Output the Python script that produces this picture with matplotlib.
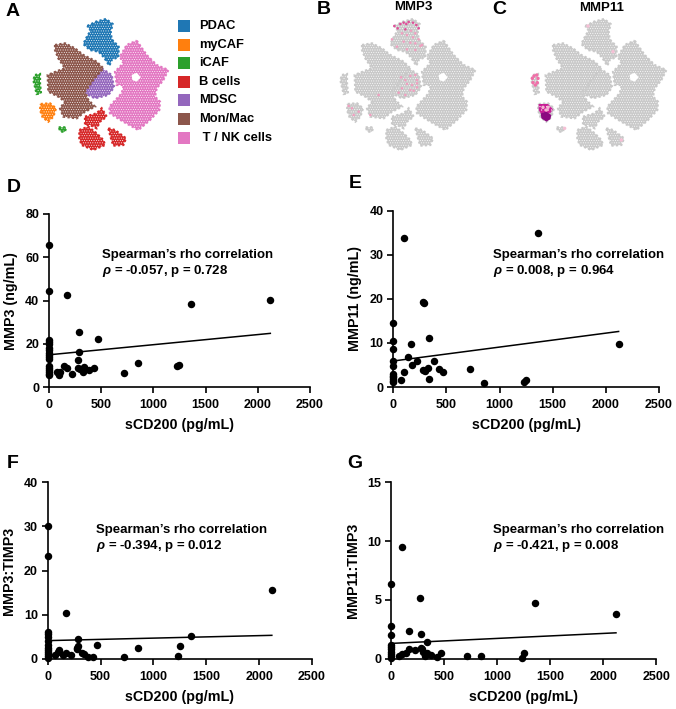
import matplotlib
matplotlib.use('Agg')
import matplotlib.pyplot as plt
from matplotlib.patches import Polygon, Rectangle

plt.rcParams['font.family'] = ['Liberation Sans', 'DejaVu Sans']
plt.rcParams['font.weight'] = 'bold'
plt.rcParams['axes.labelweight'] = 'bold'
plt.rcParams['mathtext.fontset'] = 'custom'
plt.rcParams['mathtext.it'] = 'Liberation Sans:italic'
plt.rcParams['hatch.linewidth'] = 0.35

W, H = 676, 709

# cluster outlines
pdac = [[(262, 78), (288, 65), (318, 57), (338, 72), (332, 95), (335, 118), (356, 140), (355, 172),
         (336, 178), (328, 197), (312, 172), (296, 155), (270, 150), (250, 132), (262, 108), (272, 92)]]
mycaf = [[(122, 312), (150, 310), (168, 325), (160, 350), (145, 365), (128, 352), (120, 330)]]
icaf = [[(105, 225), (120, 222), (120, 250), (123, 280), (110, 282), (100, 240)],
        [(176, 382), (198, 382), (195, 395), (182, 395)]]
bcells = [[(255, 350), (290, 340), (305, 325), (320, 350), (300, 365), (290, 385), (270, 375), (255, 375)],
          [(238, 390), (265, 380), (290, 400), (310, 420), (315, 435), (280, 450), (245, 435), (238, 415)],
          [(325, 385), (345, 390), (378, 415), (370, 435), (340, 437), (333, 415)]]
mdsc = [[(305, 205), (335, 225), (342, 262), (325, 285), (285, 295), (255, 280), (280, 240)]]
monmac = [[(165, 135), (195, 130), (225, 145), (250, 165), (290, 185), (310, 205), (280, 240), (255, 275),
           (265, 300), (285, 320), (255, 335), (230, 355), (190, 350), (180, 325), (195, 305), (175, 290),
           (145, 275), (143, 225), (175, 212), (195, 205), (175, 175), (165, 150)]]
tnk = [[(410, 122), (440, 165), (470, 195), (505, 210), (490, 240), (470, 265), (465, 290), (480, 305),
        (478, 330), (450, 360), (415, 390), (370, 365), (330, 340), (328, 320), (365, 280), (372, 255),
        (350, 255), (345, 215), (370, 190), (360, 170), (380, 135)]]
tnk_hole = [(395, 225), (410, 218), (422, 232), (410, 245), (397, 240)]

clusters = [pdac, mycaf, icaf, bcells, mdsc, monmac, tnk]
cluster_names = ['PDAC', 'myCAF', 'iCAF', 'B cells', 'MDSC', 'Mon/Mac', ' T / NK cells']
cluster_colors = ['#1f77b4', '#ff7f0e', '#2ca02c', '#d62728', '#9467bd', '#8c564b', '#e377c2']

# expressing cells, same map coordinates
mmp3_x = [262, 280, 290, 298, 305, 318, 328, 335, 272, 295, 312, 325, 285, 300, 318, 335, 290, 310, 325, 340,
          270, 300, 325, 345, 255, 125, 135, 155, 140, 190, 282, 295, 310, 325, 330, 300, 315, 330, 285, 310,
          275, 295, 320, 330, 215]
mmp3_y = [78, 72, 68, 72, 66, 68, 75, 85, 85, 88, 92, 100, 100, 105, 112, 118, 125, 128, 130, 138,
          140, 148, 150, 135, 118, 318, 325, 335, 345, 345, 232, 240, 228, 225, 240, 252, 255, 250, 265, 270,
          278, 285, 272, 262, 285]
mmp3_c = ['#e0509a'] * 10 + ['#f0a0c0'] * 35

mmp11_mid = [(122, 312), (150, 312), (165, 328), (157, 340), (128, 340), (122, 330)]
mmp11_dark = [(128, 340), (145, 335), (160, 345), (157, 358), (145, 365), (130, 355)]
mmp11_x = [103, 108, 116, 120, 118, 105, 112, 135, 150, 145, 200, 270, 345, 370]
mmp11_y = [235, 228, 225, 235, 248, 248, 255, 322, 322, 330, 385, 78, 155, 420]
mmp11_c = ['#f070a8'] * 7 + ['#f3b6d2'] * 3 + ['#f5c0d5'] * 4

# sCD200 pg/mL and the four read-outs
y_zero_d = [65.7, 44.3, 22, 21, 20, 18, 17, 16, 15, 14, 13, 10, 9, 8, 7, 6, 5.5]
x_d = [72, 100, 105, 140, 170, 172, 225, 275, 280, 285, 290, 295, 325, 340, 345, 380, 430, 470, 720, 850, 1230, 1250, 1360, 2120]
y_d = [7.2, 5.5, 7, 10, 42.5, 8.7, 6.2, 12.5, 8.8, 25.3, 16.5, 8.5, 7, 9.2, 8.5, 8, 9, 22.3, 6.8, 11.2, 9.7, 10.5, 38.5, 40.2]

y_zero_e = [14.6, 10.5, 8.6, 6, 4.8, 3, 2.6, 2.2, 1.8, 1.4, 1.1]
x_e = [105, 1360, 275, 285, 335, 170, 140, 225, 175, 380, 275, 295, 325, 430, 470, 340, 72, 105, 720, 850, 1230, 1250, 2120]
y_e = [33.8, 35, 19.3, 19, 11.2, 9.7, 6.7, 6, 5, 5.8, 3.9, 3.6, 4.2, 4, 3.4, 1.9, 1.7, 3.5, 4.1, 0.9, 1.1, 1.6, 9.8]

y_zero_f = [30, 23.2, 6.1, 5.5, 5, 4, 3.2, 2.5, 2, 1.5, 1, 0.5, 0.2]
x_f = [170, 2120, 1360, 1250, 1230, 850, 720, 470, 290, 285, 275, 280, 325, 340, 380, 430, 225, 175, 140, 105, 100, 72]
y_f = [10.3, 15.6, 5.2, 2.8, 0.5, 2.4, 0.4, 3.2, 4.4, 2.8, 2.2, 2.5, 1.2, 1, 0.4, 0.3, 0.8, 1.3, 0.9, 1.9, 1.5, 0.9]

y_zero_g = [6.35, 2.8, 2, 1.15, 1, 0.8, 0.6, 0.4, 0.2, 0.1]
x_g = [105, 275, 1360, 2120, 170, 280, 335, 280, 295, 225, 170, 140, 105, 72, 325, 340, 380, 430, 470, 720, 850, 1230, 1250, 300]
y_g = [9.5, 5.2, 4.7, 3.8, 2.35, 2.1, 1.45, 0.95, 0.8, 0.7, 0.8, 0.5, 0.4, 0.2, 0.2, 0.45, 0.3, 0.15, 0.5, 0.2, 0.2, 0.05, 0.45, 0.6]

line_x = [0, 2120]
line_d = [15, 24.9]
line_e = [5.9, 12.6]
line_f = [4.1, 5.3]
line_g = [1.3, 2.2]


def axes_px(left, top, right, bottom):
    return fig.add_axes([left / W, 1 - bottom / H, (right - left) / W, (bottom - top) / H])


def draw_map(offset, colors=None):
    # the map is read in 3x pixel units, x 80-510 and y 50-460
    ax = axes_px(80 / 3 + offset, 50 / 3, 510 / 3 + offset, 460 / 3)
    ax.set_xlim(80, 510)
    ax.set_ylim(460, 50)
    ax.axis('off')
    for i, parts in enumerate(clusters):
        c = colors[i] if colors else '#c9c9c9'
        for part in parts:
            ax.add_patch(Polygon(part, closed=True, facecolor=c, edgecolor='white', hatch='.......', lw=0))
            # dotted rim so the cluster edge is not a hard line
            ax.add_patch(Polygon(part, closed=True, fill=False, edgecolor=c, lw=1.6, ls=(0, (1, 1))))
    ax.add_patch(Polygon(tnk_hole, closed=True, facecolor='white', edgecolor='none'))
    return ax


def draw_scatter(box, ylim, yticks, ylabel, x, y, y_zero, line_y, stat, stat_px, ylabel_x, xlabel_y):
    ax = axes_px(*box)
    ax.set_xlim(0, 2500)
    ax.set_ylim(0, ylim)
    ax.scatter(x, y, s=29, color='black', clip_on=False, zorder=3, lw=0)
    ax.scatter([0] * len(y_zero), y_zero, s=29, color='black', clip_on=False, zorder=3, lw=0)
    ax.plot(line_x, line_y, color='black', lw=1.1)
    ax.spines[['top', 'right']].set_visible(False)
    ax.spines[['left', 'bottom']].set_linewidth(1.2)
    ax.set_xticks([0, 500, 1000, 1500, 2000, 2500])
    ax.set_yticks(yticks)
    ax.tick_params(width=1.2, length=4.5, labelsize=9, pad=2.5)
    ax.tick_params(axis='x', pad=4)
    ax.set_xlabel('sCD200 (pg/mL)', fontsize=10.3, va='center')
    ax.set_ylabel(ylabel, fontsize=10.3, va='center')
    ax.xaxis.set_label_coords((box[0] + box[2]) / 2 / W, 1 - xlabel_y / H, transform=fig.transFigure)
    ax.yaxis.set_label_coords(ylabel_x / W, 1 - (box[1] + box[3]) / 2 / H, transform=fig.transFigure)
    fig.text(stat_px[0] / W, 1 - stat_px[1] / H, 'Spearman\u2019s rho correlation', fontsize=9.5, va='center')
    fig.text(stat_px[0] / W, 1 - (stat_px[1] + 16) / H, stat, fontsize=9.5, va='center')
    return ax


fig = plt.figure(figsize=(W / 100, H / 100), dpi=100)

draw_map(0, cluster_colors)
legend_y = [26, 44.7, 63.3, 82, 100.3, 119, 138]
ax_legend = axes_px(0, 0, W, H)
ax_legend.set_xlim(0, W)
ax_legend.set_ylim(H, 0)
ax_legend.axis('off')
for ly, name, c in zip(legend_y, cluster_names, cluster_colors):
    ax_legend.add_patch(Rectangle((178, ly - 6), 11.5, 12, facecolor=c, edgecolor='none'))
    ax_legend.text(199, ly, name, fontsize=9.3, va='center')

ax_b = draw_map(307)
ax_b.scatter(mmp3_x, mmp3_y, s=3.5, c=mmp3_c, lw=0)
ax_c = draw_map(498)
ax_c.add_patch(Polygon(mmp11_mid, closed=True, facecolor='#c81e96', edgecolor='white', hatch='.....', lw=0))
ax_c.add_patch(Polygon(mmp11_dark, closed=True, facecolor='#8b0a80', edgecolor='none'))
ax_c.scatter(mmp11_x, mmp11_y, s=6, c=mmp11_c, lw=0)
fig.text(413 / W, 1 - 7 / H, 'MMP3', fontsize=9.5, ha='center', va='center')
fig.text(602 / W, 1 - 8 / H, 'MMP11', fontsize=9.5, ha='center', va='center')

draw_scatter((49, 214, 310, 387.3), 80, [0, 20, 40, 60, 80], 'MMP3 (ng/mL)', x_d, y_d, y_zero_d, line_d,
             r'$\rho$ = -0.057, p = 0.728', (101.5, 255), 11.5, 425.5)
draw_scatter((393.3, 210.7, 659, 387), 40, [0, 10, 20, 30, 40], 'MMP11 (ng/mL)', x_e, y_e, y_zero_e, line_e,
             r'$\rho$ = 0.008, p = 0.964', (493, 255), 355, 425.5)
draw_scatter((47.7, 482.3, 312, 658.7), 40, [0, 10, 20, 30, 40], 'MMP3:TIMP3', x_f, y_f, y_zero_f, line_f,
             r'$\rho$ = -0.394, p = 0.012', (96.5, 530), 9, 697)
draw_scatter((391, 482.3, 656.3, 658.7), 15, [0, 5, 10, 15], 'MMP11:TIMP3', x_g, y_g, y_zero_g, line_g,
             r'$\rho$ = -0.421, p = 0.008', (493, 530), 353, 697)

panel_letters = ['A', 'B', 'C', 'D', 'E', 'F', 'G']
letter_x = [6, 317, 492, 7, 349, 7, 347]
letter_y = [11, 10, 10, 187, 183, 464, 464]
for s, lx, ly in zip(panel_letters, letter_x, letter_y):
    fig.text(lx / W, 1 - ly / H, s, fontsize=14, va='center')

fig.savefig('out.png', dpi=100)
